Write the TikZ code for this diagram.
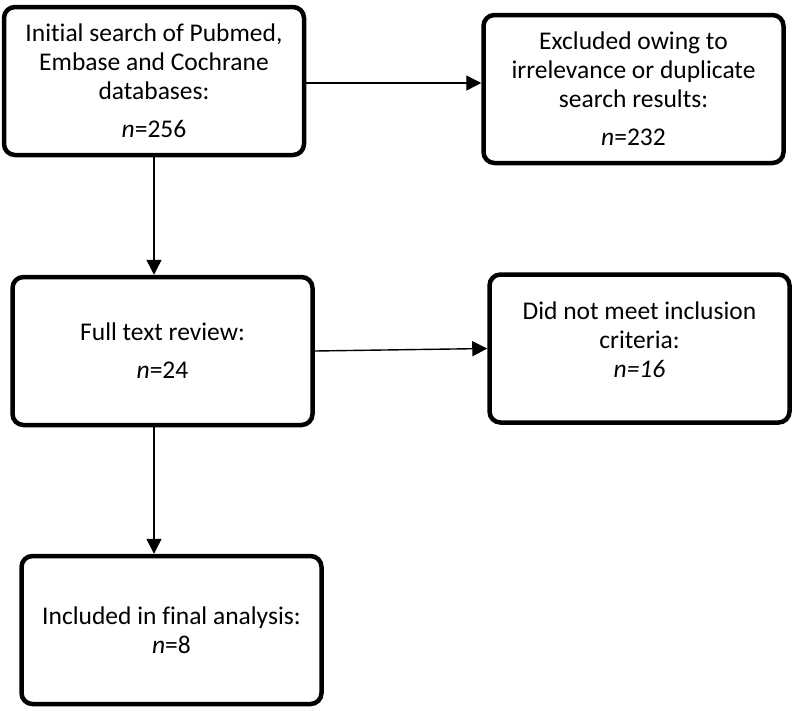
\documentclass[tikz,border=0pt]{standalone}
\usepackage{fontspec}
\setmainfont{Carlito}[RawFeature=-liga]
\usetikzlibrary{arrows.meta}
\tikzset{
  box/.style={draw=black, line width=4.5pt, rounded corners=11pt, fill=white,
    align=center, inner sep=0pt, minimum width=300pt, minimum height=148pt,
    font=\fontsize{25.5}{29}\selectfont},
  arr/.style={line width=1.4pt, -{Triangle[length=15pt,width=15pt]}}
}
\begin{document}
\begin{tikzpicture}[x=1pt,y=-1pt]
\useasboundingbox[fill=white] (0,0) rectangle (794,710);
\node[box] (search) at (154,81) {Initial search of Pubmed,\\Embase and Cochrane\\databases:\\[9pt]\textit{n}=256};
\node[box] (excl) at (633.5,89) {Excluded owing to\\irrelevance or duplicate\\search results:\\[9pt]\textit{n}=232};
\node[box] (full) at (162.5,351) {Full text review:\\[9pt]\textit{n}=24};
\node[box] (notmeet) at (639.5,348.5) {Did not meet inclusion\\criteria:\\\textit{n=16}\\[-12pt]\mbox{}};
\node[box] (incl) at (171.5,630) {Included in final analysis:\\\textit{n}=8};
\draw[arr] ([yshift=-2pt]search.east) -- ([yshift=-2pt]search.east -| excl.west);
\draw[arr] (search.south) -- (search.south |- full.north);
\draw[arr] (full.east) -- (notmeet.west);
\draw[arr] (search.south |- full.south) -- (search.south |- incl.north);
\end{tikzpicture}
\end{document}
